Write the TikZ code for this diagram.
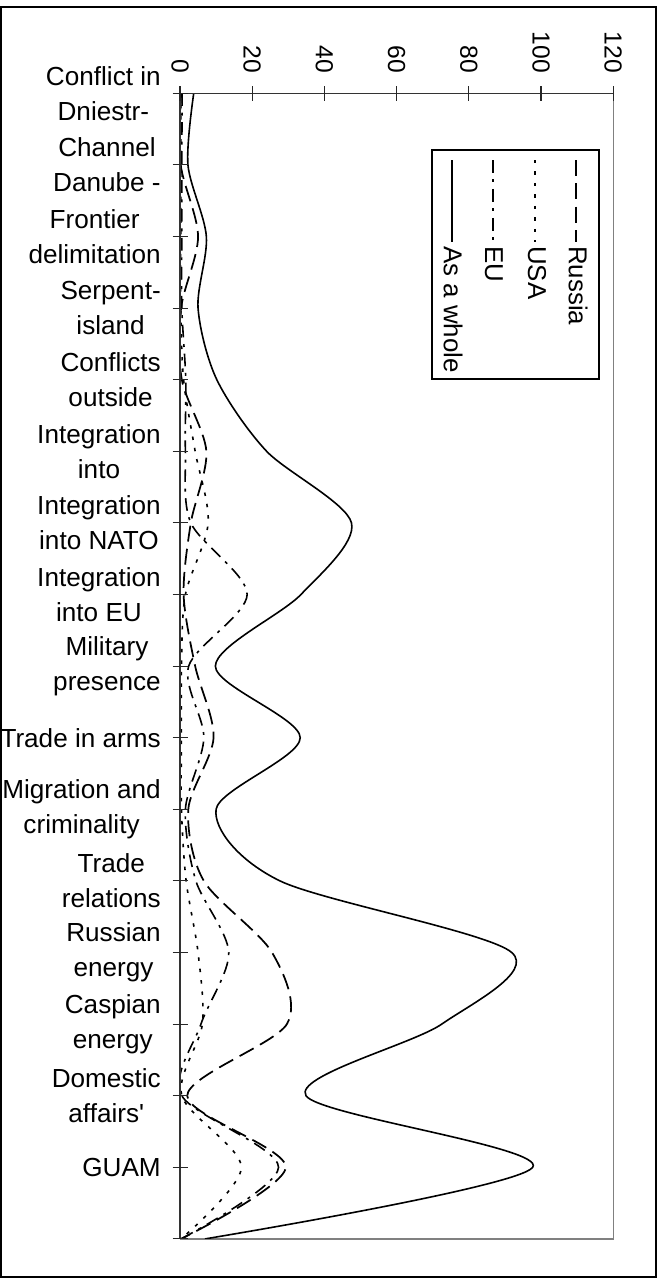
\documentclass[tikz,border=0pt]{standalone}
\usepackage{fontspec}
\setmainfont{Liberation Sans}
\begin{document}
\begin{tikzpicture}[x=0.75pt,y=-0.75pt,
  lbl/.style={font=\fontsize{19.6}{26.25}\selectfont, align=center, anchor=east, inner sep=0pt},
  vlbl/.style={font=\fontsize{18.5}{22}\selectfont, rotate=-90, anchor=east, inner sep=0pt},
  leg/.style={font=\fontsize{19.4}{22}\selectfont, rotate=-90, anchor=west, inner sep=0pt},
  russia/.style={line width=1.3pt, dash pattern=on 12pt off 5.5pt},
  usa/.style={line width=1.2pt, dash pattern=on 2.6pt off 6pt},
  eu/.style={line width=1.2pt, dash pattern=on 9.5pt off 5pt on 2.2pt off 5pt},
  whole/.style={line width=1.2pt},
  frame/.style={line width=0.8pt, black},
  axisline/.style={line width=1pt, black!80},
  border/.style={line width=1.1pt, black!50},
  tickline/.style={line width=0.8pt, black!85},
]
\useasboundingbox (0,0) rectangle (664,1279);
% outer frame
\draw[frame] (1,7) rectangle (656,1277);

% plot area border (right and bottom)
\draw[border] (613.3,93.3) -- (613.3,1238.9) -- (180,1238.9);

% curves
\begin{scope}
\clip (180,60) rectangle (640,1238.9);
\begin{scope}[shift={(180,93.3)}, xscale=3.61, yscale=71.6]
\draw[whole] plot[smooth] coordinates {(3.8,0) (2.2,1) (7.3,2) (5,3) (10.2,4) (24,5) (47.5,6) (33.5,7) (9.8,8) (33.3,9) (10,10) (27.7,11) (91.9,12) (72.5,13) (34.9,14) (97.7,15) (6.9,16)};
\draw[russia] plot[smooth] coordinates {(0.3,0) (0.2,1) (5,2) (0.3,3) (0.5,4) (7.3,5) (3,6) (1,7) (4.2,8) (9.3,9) (2.3,10) (6.6,11) (25.5,12) (29.6,13) (2,14) (29.3,15) (0.3,16)};
\draw[usa] plot[smooth] coordinates {(0.2,0) (0.2,1) (0.2,2) (0.2,3) (1,4) (4.2,5) (7.8,6) (1.5,7) (0.4,8) (0.4,9) (0.4,10) (1.7,11) (5,12) (6.2,13) (0.5,14) (17,15) (0.3,16)};
\draw[eu] plot[smooth] coordinates {(0.6,0) (0.5,1) (0.5,2) (0.5,3) (1.6,4) (1.5,5) (3,6) (18.6,7) (2.4,8) (6.6,9) (1.5,10) (4.4,11) (13.5,12) (5.8,13) (0.5,14) (27.3,15) (0.3,16)};
\end{scope}
\end{scope}

% axes
\draw[axisline] (180,93.3) -- (180,1238.9);
\draw[axisline] (180,93.3) -- (613.3,93.3);

% category ticks
\foreach \k in {0,...,16}{
  \draw[tickline] (172.5,93.3+71.6*\k) -- (187.5,93.3+71.6*\k);
}
% value ticks
\foreach \v in {0,20,...,120}{
  \draw[tickline] (180+3.61*\v,86) -- (180+3.61*\v,101);
}

% value labels
\node[vlbl] (v0) at (180,73) {0};
\node[vlbl] (v20) at (252.2,73) {20};
\node[vlbl] (v40) at (324.4,73) {40};
\node[vlbl] (v60) at (396.6,73) {60};
\node[vlbl] (v80) at (468.8,73) {80};
\node[vlbl] (v100) at (541,73) {100};
\node[vlbl] (v120) at (613.2,73) {120};

% category labels
\node[lbl] (c0) at (161,93.3) {Conflict in\\Dniestr-};
\node[lbl] (c1) at (161,164.9) {Channel\\Danube -};
\node[lbl] (c2) at (161,236.5) {Frontier\\delimitation};
\node[lbl] (c3) at (161,308.1) {Serpent-\\island};
\node[lbl] (c4) at (161,379.7) {Conflicts\\outside};
\node[lbl] (c5) at (161,451.3) {Integration\\into};
\node[lbl] (c6) at (161,522.9) {Integration\\into NATO};
\node[lbl] (c7) at (161,594.5) {Integration\\into EU};
\node[lbl] (c8) at (161,666.1) {Military\\presence};
\node[lbl] (c9) at (161,737.7) {Trade in arms};
\node[lbl] (c10) at (161,809.3) {Migration and\\criminality};
\node[lbl] (c11) at (161,880.9) {Trade\\relations};
\node[lbl] (c12) at (161,952.5) {Russian\\energy};
\node[lbl] (c13) at (161,1024.1) {Caspian\\energy};
\node[lbl] (c14) at (161,1095.7) {Domestic\\affairs\textquotesingle};
\node[lbl] (c15) at (161,1167.3) {GUAM};

% legend
\draw[frame, fill=white] (432,150) rectangle (599,379);
\draw[russia] (576,160) -- (576,242);
\draw[usa] (535,160) -- (535,242);
\draw[eu] (493,160) -- (493,242);
\draw[whole] (452,160) -- (452,242);
\node[leg] (lr) at (578,246) {Russia};
\node[leg] (lu) at (537,246) {USA};
\node[leg] (le) at (494,246) {EU};
\node[leg] (lw) at (453,246) {As a whole};
\end{tikzpicture}
\end{document}
